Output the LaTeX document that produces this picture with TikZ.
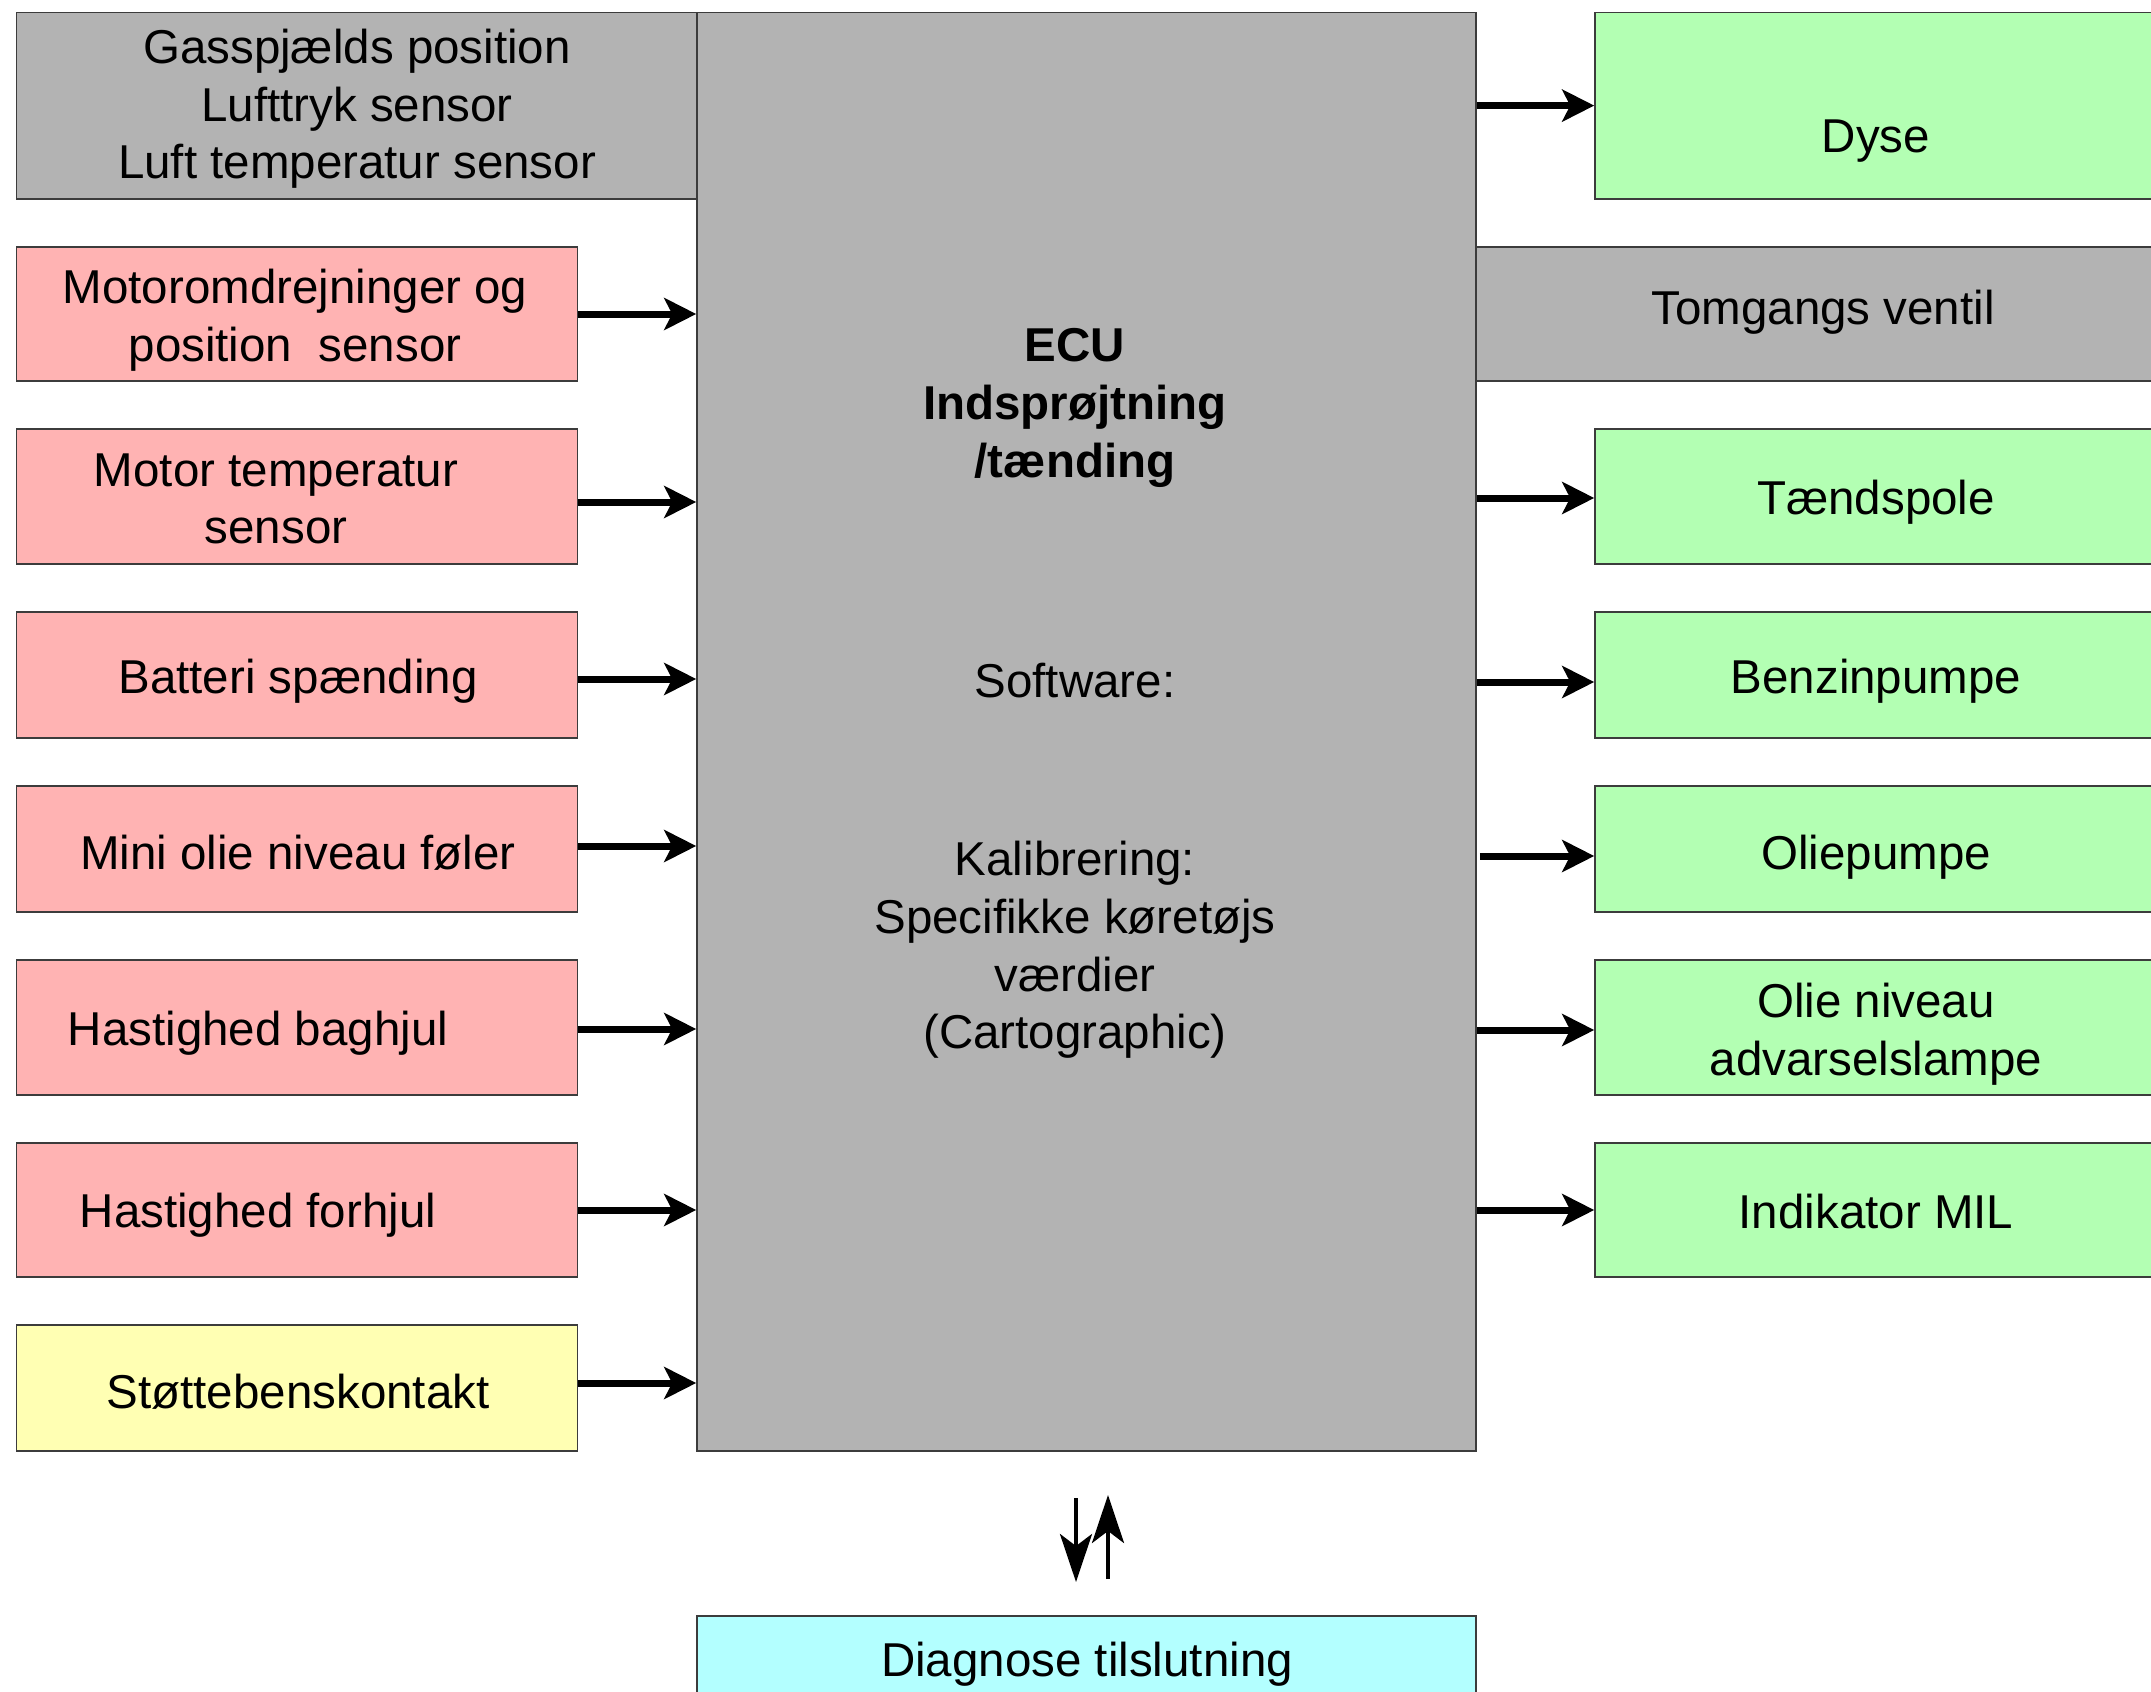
\documentclass[tikz,border=0pt]{standalone}
\usepackage{fontspec}
\setmainfont{Liberation Sans}
\usetikzlibrary{arrows.meta}
\definecolor{grayc}{RGB}{179,179,179}
\definecolor{pinkc}{RGB}{255,179,179}
\definecolor{greenc}{RGB}{179,255,179}
\definecolor{yellowc}{RGB}{255,255,179}
\definecolor{cyanc}{RGB}{179,255,255}
\definecolor{edgec}{RGB}{60,60,60}
\tikzset{
  box/.style={draw=edgec, line width=0.8pt, rectangle, inner sep=0pt},
  lbox/.style={box, minimum width=280.5pt},
  lbl/.style={align=center, inner sep=0pt, font=\fontsize{23.75pt}{28.8pt}\selectfont},
  arr/.style={line width=3.5pt, -{Stealth[length=16pt,width=16pt,inset=4pt]}},
  darr/.style={line width=2pt, -{Stealth[length=24pt,width=16pt,inset=6pt]}}
}
\begin{document}
\begin{tikzpicture}[x=0.5pt,y=-0.5pt]
\useasboundingbox (0,0) rectangle (2151,1691);
\clip (0,0) rectangle (2151,1691);
\fill[white] (0,0) rectangle (2151,1691);
% central ECU
\node[box, fill=grayc, minimum width=389.5pt, minimum height=719.25pt] (ecu) at (1086.5,731.75) {};
% left column
\node[box, fill=grayc, minimum width=340.25pt, minimum height=93.25pt] (g0) at (356.75,105.75) {};
\node[lbox, fill=pinkc, minimum height=67pt] (l1) at (297,314) {};
\node[lbox, fill=pinkc, minimum height=67.5pt] (l2) at (297,496.5) {};
\node[lbox, fill=pinkc, minimum height=63pt] (l3) at (297,675) {};
\node[lbox, fill=pinkc, minimum height=63pt] (l4) at (297,849) {};
\node[lbox, fill=pinkc, minimum height=67.5pt] (l5) at (297,1027.5) {};
\node[lbox, fill=pinkc, minimum height=67pt] (l6) at (297,1210) {};
\node[lbox, fill=yellowc, minimum height=63pt] (l7) at (297,1388) {};
% right column
\node[lbox, fill=greenc, minimum height=93.25pt] (r0) at (1875.5,105.75) {};
\node[box, fill=grayc, minimum width=340pt, minimum height=67pt] (t0) at (1816,314) {};
\node[lbox, fill=greenc, minimum height=67.5pt] (r2) at (1875.5,496.5) {};
\node[lbox, fill=greenc, minimum height=63pt] (r3) at (1875.5,675) {};
\node[lbox, fill=greenc, minimum height=63pt] (r4) at (1875.5,849) {};
\node[lbox, fill=greenc, minimum height=67.5pt] (r5) at (1875.5,1027.5) {};
\node[lbox, fill=greenc, minimum height=67pt] (r6) at (1875.5,1210) {};
% diagnose
\node[box, fill=cyanc, minimum width=389.5pt, minimum height=52pt] (dg) at (1086.5,1668) {};
% texts
\node[lbl] (tg0) at (357,109) {Gasspjælds position\\Lufttryk sensor\\Luft temperatur sensor};
\node[lbl] (tl1) at (295,320) {Motoromdrejninger og\\position\ \ sensor};
\node[lbl] (tl2) at (276,499) {Motor temperatur\\sensor};
\node[lbl] (tl3) at (298,681) {Batteri spænding};
\node[lbl] (tl4) at (298,853) {Mini olie niveau føler};
\node[lbl] (tl5) at (258,1033) {Hastighed baghjul};
\node[lbl] (tl6) at (258,1215) {Hastighed forhjul};
\node[lbl] (tl7) at (298,1392) {Støttebenskontakt};
\node[lbl, font=\fontsize{23.75pt}{28.8pt}\selectfont\bfseries] (tecu) at (1075,408) {ECU\\Indsprøjtning\\/tænding};
\node[lbl] (tsw) at (1075,681) {Software:};
\node[lbl] (tkal) at (1075,950) {Kalibrering:\\Specifikke køretøjs\\værdier\\(Cartographic)};
\node[lbl] (tr0) at (1876,141) {Dyse};
\node[lbl] (tt0) at (1823,312) {Tomgangs ventil};
\node[lbl] (tr2) at (1876,502) {Tændspole};
\node[lbl] (tr3) at (1876,681) {Benzinpumpe};
\node[lbl] (tr4) at (1876,857) {Oliepumpe};
\node[lbl] (tr5) at (1876,1034) {Olie niveau\\advarselslampe};
\node[lbl] (tr6) at (1876,1212) {Indikator MIL};
\node[lbl] (tdg) at (1087,1664) {Diagnose tilslutning};
% input arrows
\draw[arr] (l1.east |- 0,314) -- (ecu.west |- 0,314);
\draw[arr] (l2.east |- 0,502) -- (ecu.west |- 0,502);
\draw[arr] (l3.east |- 0,679) -- (ecu.west |- 0,679);
\draw[arr] (l4.east |- 0,846) -- (ecu.west |- 0,846);
\draw[arr] (l5.east |- 0,1029) -- (ecu.west |- 0,1029);
\draw[arr] (l6.east |- 0,1210) -- (ecu.west |- 0,1210);
\draw[arr] (l7.east |- 0,1383) -- (ecu.west |- 0,1383);
% output arrows
\draw[arr] (ecu.east |- 0,105.6) -- (r0.west |- 0,105.6);
\draw[arr] (ecu.east |- 0,498) -- (r2.west |- 0,498);
\draw[arr] (ecu.east |- 0,682) -- (r3.west |- 0,682);
\draw[arr] ([xshift=1.5pt]ecu.east |- 0,856) -- (r4.west |- 0,856);
\draw[arr] (ecu.east |- 0,1030) -- (r5.west |- 0,1030);
\draw[arr] (ecu.east |- 0,1210) -- (r6.west |- 0,1210);
% diagnose arrows
\coordinate (da1) at (1076,1498);
\coordinate (da2) at (1076,1582);
\coordinate (ua1) at (1108,1579);
\coordinate (ua2) at (1108,1495);
\draw[darr] (da1) -- (da2);
\draw[darr] (ua1) -- (ua2);
\end{tikzpicture}
\end{document}
